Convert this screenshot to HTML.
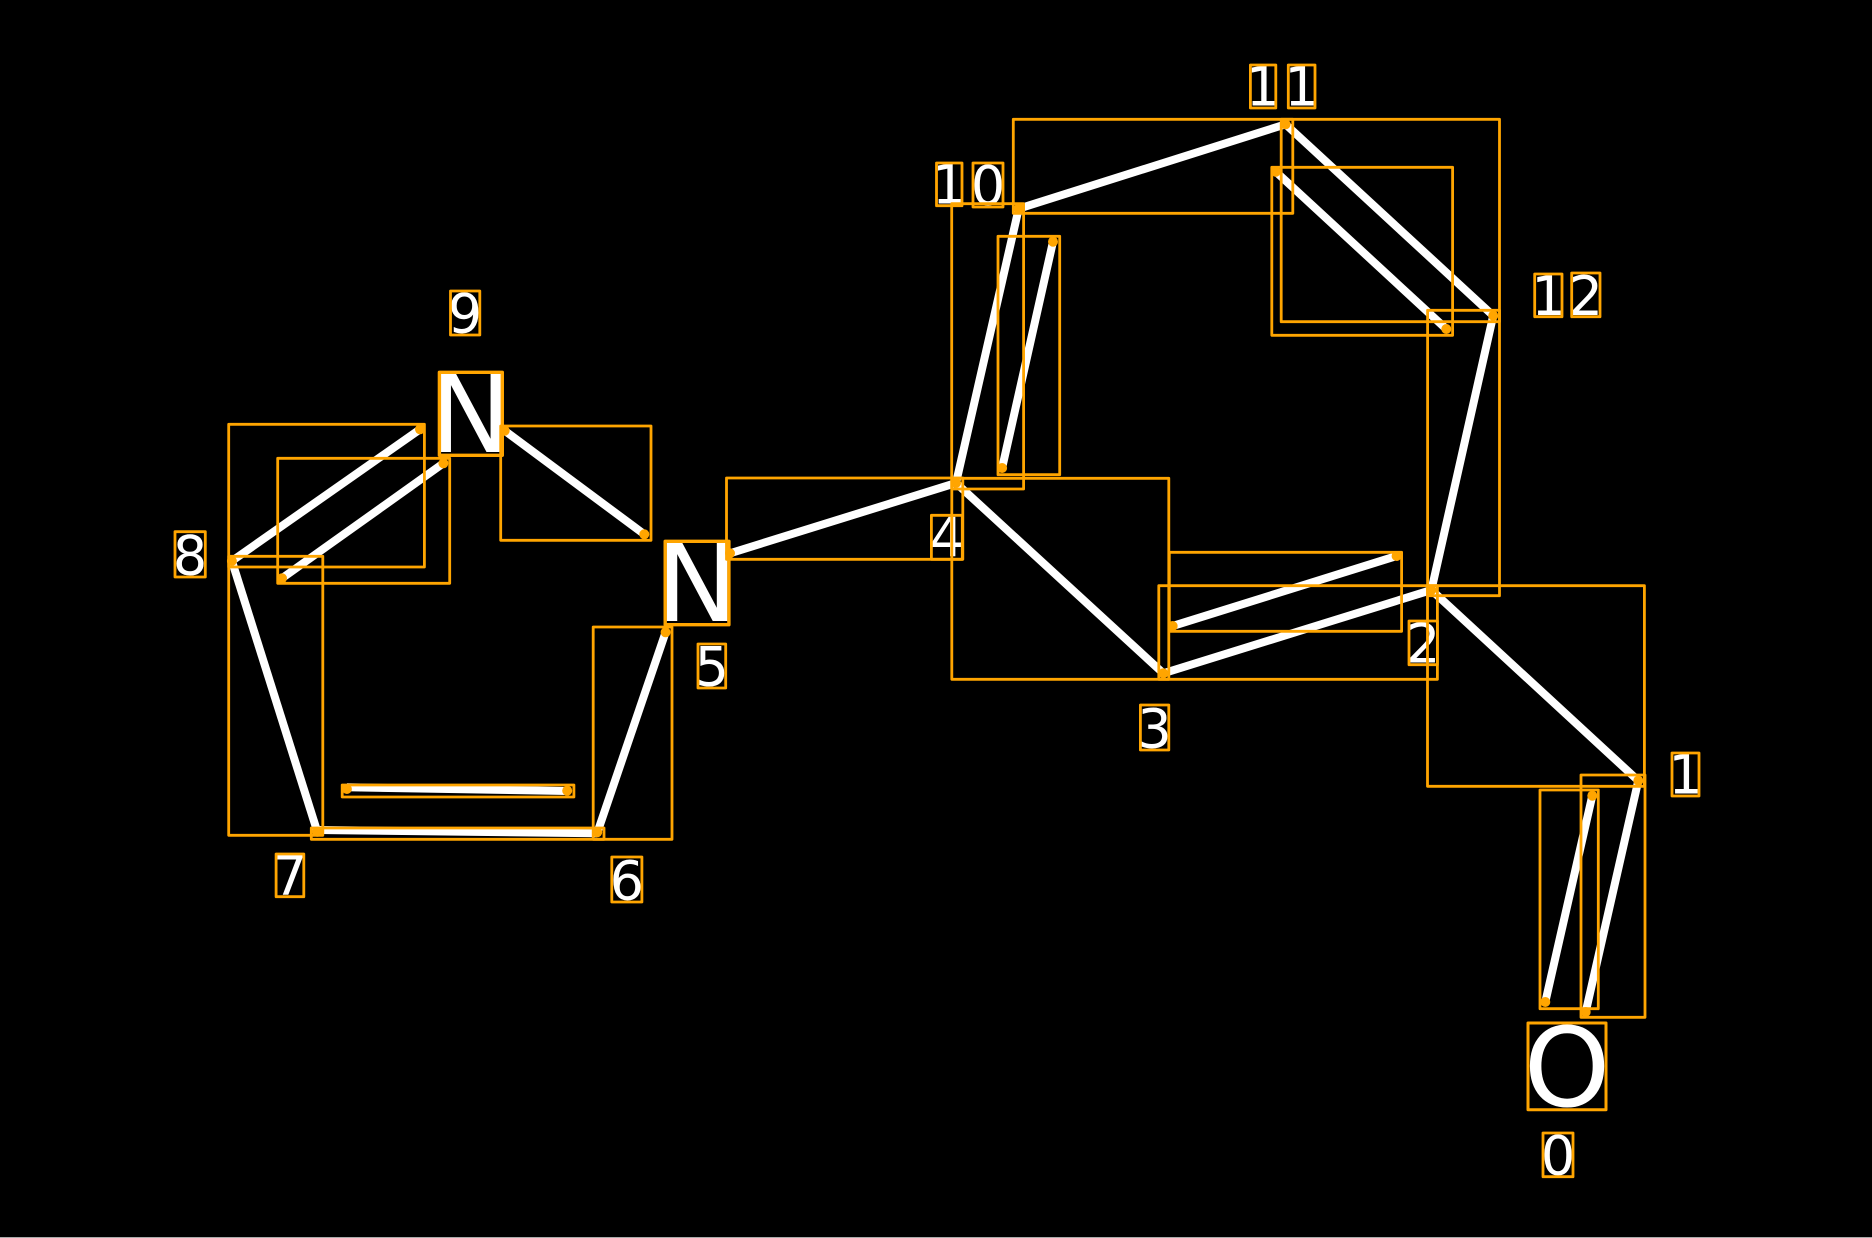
<!DOCTYPE html>
<html><head><meta charset="utf-8"><style>
html,body{margin:0;padding:0;background:#000;width:1872px;height:1238px;overflow:hidden}
svg{display:block}
text{font-family:"DejaVu Sans",sans-serif;fill:#fff;text-anchor:middle}
.l{font-size:54px}.a{font-size:110px}
.b line{stroke:#fff;stroke-width:8;stroke-linecap:butt}
.r rect{fill:none;stroke:#ffa500;stroke-width:2.8;stroke-linejoin:round}
.d circle{fill:#ffa500;r:5px}
</style></head><body>
<svg width="1872" height="1238" viewBox="0 0 1872 1238" xmlns="http://www.w3.org/2000/svg">
<rect width="1872" height="1238" fill="#000"/>
<rect y="1237" width="1872" height="1" fill="#aaa"/>
<g class="b">
<line x1="1585.7" y1="1012" x2="1638.3" y2="780.7"/>
<line x1="1545.3" y1="1002" x2="1592.3" y2="795.7"/>
<line x1="1638.3" y1="780.7" x2="1431.4" y2="590"/>
<line x1="1431.4" y1="590" x2="1163.3" y2="673.3"/>
<line x1="1396.6" y1="556" x2="1172.7" y2="626"/>
<line x1="1163.3" y1="673.3" x2="956" y2="483"/>
<line x1="956" y1="483" x2="730" y2="553.3"/>
<line x1="665.6" y1="632.3" x2="597.2" y2="833"/>
<line x1="597.2" y1="833.3" x2="317.3" y2="830"/>
<line x1="567.2" y1="791" x2="346.9" y2="787.3"/>
<line x1="317.3" y1="831.7" x2="231.9" y2="561"/>
<line x1="231.9" y1="561" x2="420" y2="429.3"/>
<line x1="282" y1="578.3" x2="443.4" y2="463.3"/>
<line x1="504.7" y1="430.7" x2="644.3" y2="534.3"/>
<line x1="956" y1="483" x2="1018.7" y2="208.7"/>
<line x1="1002.1" y1="468" x2="1053" y2="241.7"/>
<line x1="1018.7" y1="208.7" x2="1285.6" y2="124.3"/>
<line x1="1285.6" y1="124.3" x2="1493.2" y2="315.7"/>
<line x1="1275.8" y1="171.7" x2="1446.3" y2="329"/>
<line x1="1493.2" y1="315.7" x2="1431.4" y2="590"/>
</g>
<g>
<text class="a" x="470.8" y="452">N</text>
<text class="a" x="697" y="621">N</text>
<text class="a" x="1567" y="1106">O</text>
<text class="l" x="1558" y="1174.5">0</text>
<text class="l" x="1685.5" y="793.5">1</text>
<text class="l" x="1423.2" y="662.5">2</text>
<text class="l" x="1154.6" y="747.5">3</text>
<text class="l" x="946.8" y="556.5">4</text>
<text class="l" x="711.8" y="685.5">5</text>
<text class="l" x="626.8" y="899.5">6</text>
<text class="l" x="290" y="894.5">7</text>
<text class="l" x="190" y="574.3">8</text>
<text class="l" x="465" y="332.5">9</text>
<text class="l" x="949.2" y="203.5">1</text>
<text class="l" x="988" y="204.5">0</text>
<text class="l" x="1263" y="105.5">1</text>
<text class="l" x="1301.6" y="105.5">1</text>
<text class="l" x="1548.5" y="315">1</text>
<text class="l" x="1585.8" y="315">2</text>
</g>
<g class="r">
<rect x="228.7" y="424.3" width="195.7" height="142.7"/>
<rect x="277.7" y="458.3" width="172" height="125"/>
<rect x="500.7" y="426" width="150.3" height="114.3"/>
<rect x="228.7" y="556.3" width="94.1" height="279"/>
<rect x="593.2" y="627" width="78.8" height="212.3"/>
<rect x="311.3" y="828" width="292.7" height="11.3"/>
<rect x="342.2" y="785" width="231.7" height="12"/>
<rect x="726.5" y="478" width="236.3" height="81.3"/>
<rect x="951.8" y="478.3" width="217" height="201"/>
<rect x="1158.8" y="585.7" width="278.6" height="93.6"/>
<rect x="1169.3" y="552.3" width="232.3" height="79"/>
<rect x="1427.5" y="585.7" width="216.9" height="200.6"/>
<rect x="1427.6" y="310.3" width="71.9" height="285.4"/>
<rect x="1013.3" y="119.3" width="279.5" height="94"/>
<rect x="1281.2" y="119.3" width="218.3" height="202.4"/>
<rect x="1271.8" y="167.3" width="180.8" height="168"/>
<rect x="951.7" y="203.7" width="71.9" height="285.3"/>
<rect x="998" y="236.3" width="61.7" height="238.4"/>
<rect x="1581" y="775" width="64" height="242.3"/>
<rect x="1540" y="790" width="58.3" height="218.7"/>
<rect x="439.4" y="372.3" width="62.9" height="83" style="stroke-width:3.4"/>
<rect x="665.2" y="541.3" width="63.7" height="83.4" style="stroke-width:3.4"/>
<rect x="1528" y="1023" width="78" height="86.7" style="stroke-width:3"/>
<rect x="1543" y="1133" width="30" height="43.7"/>
<rect x="1672" y="753" width="27" height="43"/>
<rect x="1409" y="621" width="28.4" height="43.7"/>
<rect x="1140.4" y="705" width="28.4" height="45"/>
<rect x="931.4" y="515.3" width="30.9" height="44"/>
<rect x="698" y="644" width="27.7" height="44"/>
<rect x="611.8" y="857" width="30.1" height="45"/>
<rect x="276.1" y="854" width="27.7" height="42.7"/>
<rect x="175" y="531.7" width="30.3" height="45.3"/>
<rect x="450.5" y="291" width="29.3" height="44"/>
<rect x="936.5" y="163" width="25.5" height="42.7"/>
<rect x="973" y="163" width="30" height="44"/>
<rect x="1250.4" y="65" width="25.4" height="43"/>
<rect x="1288.3" y="65" width="26.7" height="43"/>
<rect x="1534.7" y="274" width="27.3" height="42.7"/>
<rect x="1571.7" y="273" width="28.3" height="43.7"/>
</g>
<g class="d">
<circle cx="1585.7" cy="1012"/><circle cx="1638.3" cy="780.7"/><circle cx="1545.3" cy="1002"/><circle cx="1592.3" cy="795.7"/>
<circle cx="1431.4" cy="590"/><circle cx="1163.3" cy="673.3"/><circle cx="1396.6" cy="556"/><circle cx="1172.7" cy="626"/>
<circle cx="956" cy="483"/><circle cx="730" cy="553.3"/><circle cx="665.6" cy="632.3"/><circle cx="597.2" cy="832.3"/>
<circle cx="317.3" cy="831.7"/><circle cx="567.2" cy="790.7"/><circle cx="346.9" cy="789"/><circle cx="231.9" cy="561"/>
<circle cx="420" cy="429.3"/><circle cx="282" cy="578.3"/><circle cx="443.4" cy="463.3"/><circle cx="504.7" cy="430.7"/>
<circle cx="644.3" cy="534.3"/><circle cx="1018.7" cy="208.7"/><circle cx="1002.1" cy="468"/><circle cx="1053" cy="241.7"/>
<circle cx="1285.6" cy="124.3"/><circle cx="1493.2" cy="315.7"/><circle cx="1275.8" cy="171.7"/><circle cx="1446.3" cy="329"/>
</g>
</svg>
</body></html>
